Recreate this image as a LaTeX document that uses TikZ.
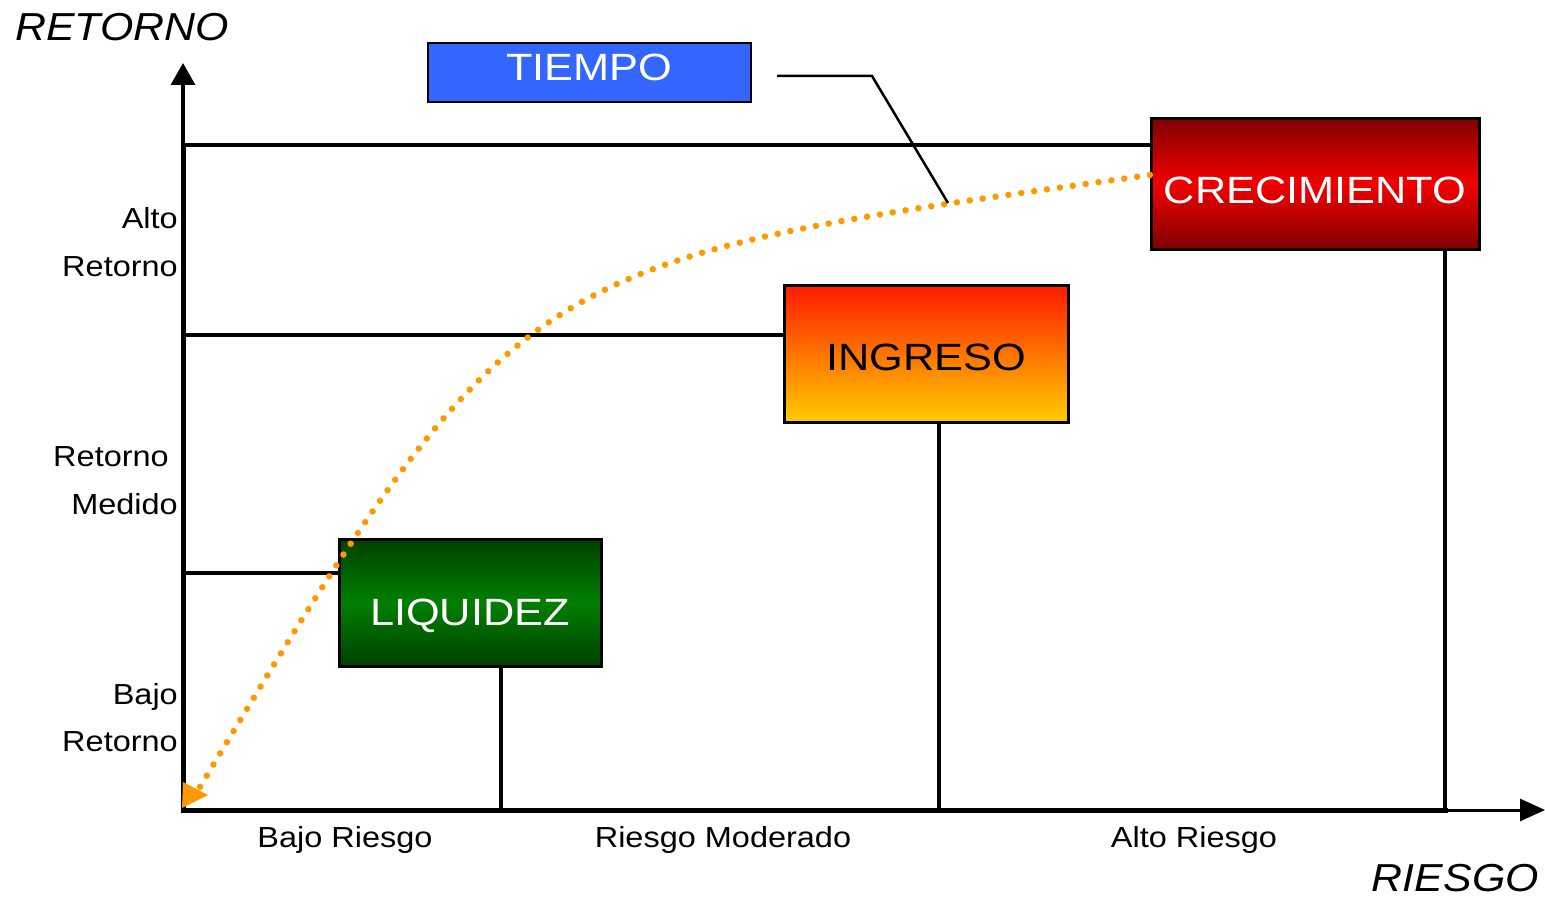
\documentclass[tikz,border=0pt]{standalone}
\usepackage{fontspec}
\usepackage{graphicx}
\setmainfont{Liberation Sans}
\usetikzlibrary{arrows.meta}
\definecolor{dkred}{HTML}{800000}
\definecolor{brred}{HTML}{F20000}
\definecolor{dkgreen}{HTML}{004000}
\definecolor{mdgreen}{HTML}{008000}
\definecolor{ingtop}{HTML}{FF1A00}
\definecolor{ingbot}{HTML}{FFCC00}
\definecolor{tblue}{HTML}{3366FF}
\definecolor{curveorange}{HTML}{FF9900}
\newcommand{\widetxt}[2]{\scalebox{#1}[1]{#2}}
\begin{document}
\begin{tikzpicture}[x=1pt,y=-1pt,
  box/.style={draw=black,line width=3pt,inner sep=0pt,font=\fontsize{38}{40}\selectfont,text height=27pt,text depth=0pt},
  axislbl/.style={font=\fontsize{29}{32}\selectfont,inner sep=0pt},
  bigitalic/.style={font=\fontsize{39}{42}\selectfont\itshape,inner sep=0pt},
  guide/.style={draw=black,line width=3.5pt},
  dotcurve/.style={draw=curveorange,line width=6.5pt,line cap=round,dash pattern=on 0pt off 13pt}
]
\useasboundingbox (0,0) rectangle (1545,899);

% boxes
\node[box,minimum width=328pt,minimum height=131pt,top color=dkred,bottom color=dkred,middle color=brred,text=white] (crec) at (1315,183.5) {\raisebox{-6.5pt}{\widetxt{1.14}{CRECIMIENTO}}};
\node[box,minimum width=284pt,minimum height=137pt,top color=ingtop,bottom color=ingbot,text=black] (ing) at (926,353.5) {\raisebox{-3.5pt}{\widetxt{1.14}{INGRESO}}};
\node[box,minimum width=262pt,minimum height=127pt,top color=dkgreen,bottom color=dkgreen,middle color=mdgreen,text=white] (liq) at (470,602.5) {\raisebox{-9pt}{\widetxt{1.14}{LIQUIDEZ}}};
\node[box,line width=2.5pt,minimum width=323pt,minimum height=59pt,fill=tblue,text=white] (tiempo) at (589.5,72.5) {\raisebox{5.5pt}{\widetxt{1.14}{TIEMPO}}};

% axes
\coordinate (O) at (183,810);
\coordinate (ytip) at (183,63);
\coordinate (xend) at (1445,810);
\coordinate (xtip) at (1545,808);
\draw[line width=3.5pt,-{Triangle[width=24pt,length=22pt]}] (183,150) -- (ytip);
\draw[line width=5pt] (183,145) -- (O);
\draw[line width=5pt,line cap=rect] (O) -- (xend);
\draw[line width=3pt,-{Triangle[width=22pt,length=25pt]}] (xend) -- (xtip |- xend);

% horizontal guides
\coordinate (h1) at (183,145);
\coordinate (h2) at (183,335);
\coordinate (h3) at (183,573);
\draw[guide] (h1) -- (h1 -| crec.west);
\draw[guide] (h2) -- (h2 -| ing.west);
\draw[guide] (h3) -- (h3 -| liq.west);

% vertical guides
\coordinate (v1) at (1445,810);
\coordinate (v2) at (939,810);
\coordinate (v3) at (501,810);
\draw[guide] (v1 |- crec.south) -- (v1);
\draw[guide] (v2 |- ing.south) -- (v2);
\draw[guide] (v3 |- liq.south) -- (v3);

% dotted curve
\coordinate (cstart) at (1150,175);
\coordinate (cend) at (197,792);
\draw[dotcurve] (cstart) .. controls (526,262) and (519,255) .. (cend);
\fill[curveorange] (183,782) -- (208,795) -- (182,808) -- cycle;

% tiempo pointer
\coordinate (tp1) at (777,76);
\coordinate (tp2) at (872,76);
\coordinate (tp3) at (948,203);
\draw[line width=2.5pt] (tp1) -- (tp2) -- (tp3);

% labels
\node[bigitalic,anchor=base west] (lret) at (15,41) {\widetxt{1.1}{RETORNO}};
\node[bigitalic,anchor=base east] (lrie) at (1539,891) {\widetxt{1.1}{RIESGO}};
\node[axislbl,anchor=base east] (a1) at (178,228) {\widetxt{1.12}{Alto}};
\node[axislbl,anchor=base east] (a2) at (178,276) {\widetxt{1.12}{Retorno}};
\node[axislbl,anchor=base east] (m1) at (169,466) {\widetxt{1.12}{Retorno}};
\node[axislbl,anchor=base east] (m2) at (178,514) {\widetxt{1.12}{Medido}};
\node[axislbl,anchor=base east] (b1) at (178,704) {\widetxt{1.12}{Bajo}};
\node[axislbl,anchor=base east] (b2) at (178,751) {\widetxt{1.12}{Retorno}};
\node[axislbl,anchor=base] (r1) at (345,847) {\widetxt{1.12}{Bajo Riesgo}};
\node[axislbl,anchor=base] (r2) at (723,847) {\widetxt{1.12}{Riesgo Moderado}};
\node[axislbl,anchor=base] (r3) at (1194,847) {\widetxt{1.12}{Alto Riesgo}};
\end{tikzpicture}
\end{document}
